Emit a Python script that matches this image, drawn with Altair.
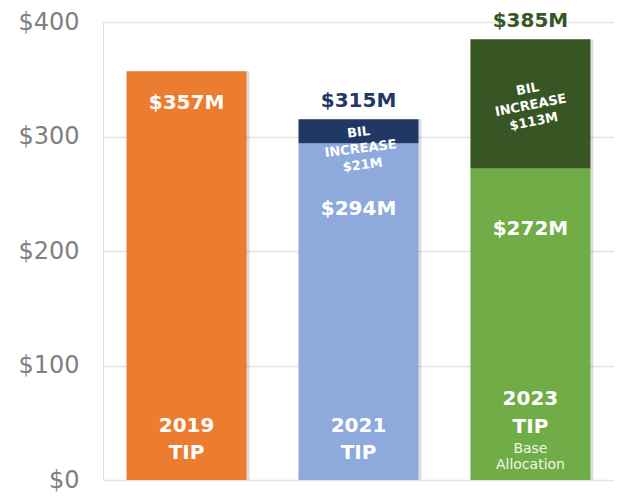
import altair as alt
import pandas as pd

# ---- data ----
categories = ["2019 TIP", "2021 TIP", "2023 TIP"]
years = ["2019", "2021", "2023"]
base_values = [357, 294, 272]
bil_values = [0, 21, 113]
subtitles = ["", "", "Base\nAllocation"]
y_ticks = [0, 100, 200, 300, 400]

# ---- palette ----
base_colors = ["#EC7C30", "#8EA9DB", "#70AD47"]
bil_colors = ["#1F3864", "#1F3864", "#375623"]
FONT = "DejaVu Sans"

# segments table
seg_rows = []
for c, b, bil in zip(categories, base_values, bil_values):
    seg_rows.append({"category": c, "key": c + "|base", "start": 0, "end": b})
    if bil > 0:
        seg_rows.append({"category": c, "key": c + "|bil", "start": b, "end": b + bil})
segs = pd.DataFrame(seg_rows)

lab = pd.DataFrame({
    "category": categories,
    "year": years,
    "base": base_values,
    "bil": bil_values,
    "subtitle": subtitles,
})
lab["total"] = lab["base"] + lab["bil"]
lab["mid"] = lab["base"] + lab["bil"] / 2
lab["zero"] = 0
lab["base_label"] = lab["base"].map(lambda v: f"${v}M")
lab["total_label"] = lab["total"].map(lambda v: f"${v}M")
lab["bil_label"] = lab["bil"].map(lambda v: f"BIL\nINCREASE\n${v}M")
lab["title"] = lab["year"] + "\nTIP"
lab["bil_key"] = lab["category"] + "|bil"

color_domain = [c + "|base" for c in categories] + [c + "|bil" for c in categories]
color_range = base_colors + bil_colors
color_scale = alt.Scale(domain=color_domain, range=color_range)

x_enc = alt.X("category:N", sort=categories,
              scale=alt.Scale(paddingInner=0.302, paddingOuter=0.137), axis=None)
y_scale = alt.Scale(domain=[0, 400], nice=False)

shadow = alt.Chart(lab).mark_bar(color="#000000", opacity=0.13, xOffset=3).encode(
    x=x_enc,
    y=alt.Y("zero:Q", scale=y_scale,
            axis=alt.Axis(values=y_ticks, labelExpr="'$' + datum.value", grid=True,
                          domain=False, ticks=False, labelPadding=24, labelFontSize=24,
                          labelFont=FONT, labelColor="#808080", gridColor="#e4e4e4",
                          gridWidth=1.5, title=None)),
    y2="total:Q",
)

bars = alt.Chart(segs).mark_bar().encode(
    x=x_enc,
    y=alt.Y("start:Q", scale=y_scale),
    y2="end:Q",
    color=alt.Color("key:N", scale=color_scale, legend=None),
)

base_txt = lambda: alt.Chart(lab)

# base value labels inside bars
base_lbl_plain = base_txt().transform_filter("datum.bil == 0").mark_text(
    font=FONT, fontWeight="bold", fontSize=20, color="white", baseline="middle", dy=32
).encode(x=x_enc, y=alt.Y("base:Q", scale=y_scale), text="base_label:N")

base_lbl_2021 = base_txt().transform_filter(f"datum.category == '{categories[1]}'").mark_text(
    font=FONT, fontWeight="bold", fontSize=20, color="white", baseline="middle", dy=66
).encode(x=x_enc, y=alt.Y("base:Q", scale=y_scale), text="base_label:N")

base_lbl_2023 = base_txt().transform_filter(f"datum.category == '{categories[2]}'").mark_text(
    font=FONT, fontWeight="bold", fontSize=20, color="white", baseline="middle", dy=60
).encode(x=x_enc, y=alt.Y("base:Q", scale=y_scale), text="base_label:N")

# totals above stacked bars
total_lbl = base_txt().transform_filter("datum.bil > 0").mark_text(
    font=FONT, fontWeight="bold", fontSize=20, baseline="middle", dy=-18
).encode(x=x_enc, y=alt.Y("total:Q", scale=y_scale), text="total_label:N",
         color=alt.Color("bil_key:N", scale=color_scale, legend=None))

# BIL increase labels
bil_lbl_2021 = base_txt().transform_filter(f"datum.category == '{categories[1]}'").mark_text(
    font=FONT, fontWeight="bold", fontSize=13, color="white", baseline="middle",
    lineBreak="\n", lineHeight=16.5, angle=353, dy=1
).encode(x=x_enc, y=alt.Y("mid:Q", scale=y_scale), text="bil_label:N")

bil_lbl_2023 = base_txt().transform_filter(f"datum.category == '{categories[2]}'").mark_text(
    font=FONT, fontWeight="bold", fontSize=13, color="white", baseline="middle",
    lineBreak="\n", lineHeight=16.5, angle=349, dy=-15
).encode(x=x_enc, y=alt.Y("mid:Q", scale=y_scale), text="bil_label:N")

# category titles at bar bottoms
title_plain = base_txt().transform_filter("datum.subtitle == ''").mark_text(
    font=FONT, fontWeight="bold", fontSize=20, color="white", baseline="bottom",
    lineBreak="\n", lineHeight=27, dy=-44
).encode(x=x_enc, y=alt.Y("zero:Q", scale=y_scale), text="title:N")

title_sub = base_txt().transform_filter("datum.subtitle != ''").mark_text(
    font=FONT, fontWeight="bold", fontSize=20, color="white", baseline="bottom",
    lineBreak="\n", lineHeight=28, dy=-71
).encode(x=x_enc, y=alt.Y("zero:Q", scale=y_scale), text="title:N")

subtitle_lbl = base_txt().transform_filter("datum.subtitle != ''").mark_text(
    font=FONT, fontSize=14, color="white", opacity=0.9, baseline="bottom",
    lineBreak="\n", lineHeight=16, dy=-24
).encode(x=x_enc, y=alt.Y("zero:Q", scale=y_scale), text="subtitle:N")

chart = alt.layer(
    shadow, bars, base_lbl_plain, base_lbl_2021, base_lbl_2023, total_lbl,
    bil_lbl_2021, bil_lbl_2023, title_plain, title_sub, subtitle_lbl
).properties(
    width=511, height=458,
    autosize=alt.AutoSizeParams(type="none"),
    padding={"left": 95, "top": 14, "right": 0, "bottom": 14},
).configure_view(stroke=None).configure(background="white")

chart.save("out.html", embed_options={"renderer": "svg", "actions": False})
